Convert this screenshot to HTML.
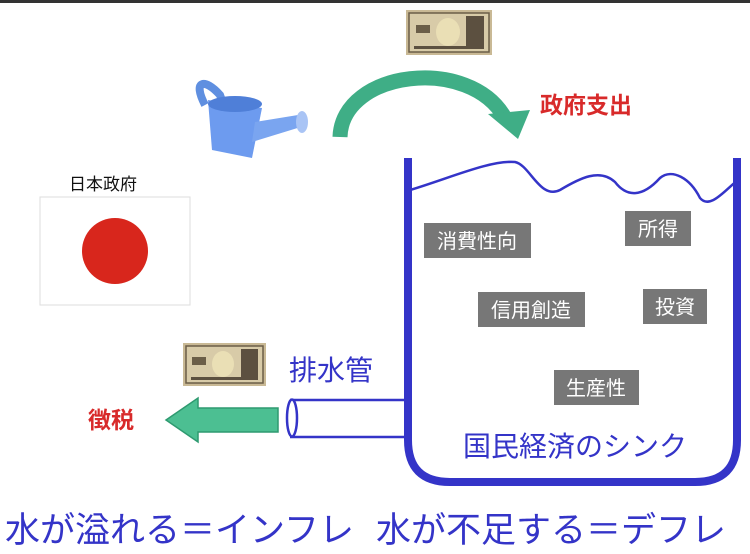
<!DOCTYPE html>
<html><head><meta charset="utf-8"><style>
body{margin:0;background:#fff;}
svg text{font-family:"Liberation Sans","Noto Sans CJK JP",sans-serif;}
</style></head><body>
<svg width="750" height="549" viewBox="0 0 750 549" xmlns="http://www.w3.org/2000/svg">
<rect x="0" y="0" width="750" height="3" fill="#333"/>
<g transform="translate(406,10)">
<rect width="86" height="45" fill="#c9b995"/>
<rect x="3" y="3" width="80" height="39" fill="#d8cba8" stroke="#6b5e48" stroke-width="1.5"/>
<ellipse cx="42" cy="22" rx="12" ry="14" fill="#eadfb5"/>
<rect x="60" y="6" width="18" height="32" fill="#5c5040"/>
<rect x="10" y="15" width="14" height="8" fill="#6b5e48"/>
<rect x="8" y="36" width="70" height="3" fill="#5c5040"/>
</g>
<g transform="translate(183,343)">
<rect width="83" height="43" fill="#c9b995"/>
<rect x="3" y="3" width="77" height="37" fill="#d8cba8" stroke="#6b5e48" stroke-width="1.5"/>
<ellipse cx="40" cy="21" rx="11" ry="13" fill="#eadfb5"/>
<rect x="58" y="6" width="17" height="30" fill="#5c5040"/>
<rect x="9" y="14" width="14" height="8" fill="#6b5e48"/>
<rect x="8" y="34" width="67" height="3" fill="#5c5040"/>
</g>
<g>
<path d="M205 105 C192 80 205 78 220 95 L226 112" fill="none" stroke="#5f8fe0" stroke-width="8"/>
<path d="M208 100 L262 108 L252 158 L212 150 Z" fill="#6d9bef"/>
<ellipse cx="235" cy="104" rx="27" ry="8" fill="#4f7fd8"/>
<path d="M255 122 L298 115 L304 126 L252 142 Z" fill="#7aa5f0"/>
<ellipse cx="302" cy="122" rx="6" ry="11" fill="#a9c4f5"/>
</g>
<path d="M340 137 C342 70 470 55 505 118" fill="none" stroke="#3fae86" stroke-width="15"/>
<path d="M488 114 L530 110 L518 139 Z" fill="#3fae86"/>
<text x="540" y="113" font-size="23" fill="#d82a2a" font-weight="bold">政府支出</text>
<text x="69" y="190" font-size="17" fill="#111">日本政府</text>
<rect x="40" y="197" width="150" height="108" fill="#fff" stroke="#ddd"/>
<circle cx="115" cy="251" r="33" fill="#d8261c"/>
<path d="M408 158 L408 440 Q408 482 450 482 L695 482 Q737 482 737 440 L737 158" fill="none" stroke="#3434c8" stroke-width="8"/>
<path d="M410 190 C450 178 490 160 515 162 C530 165 540 200 560 190 C580 178 600 168 615 182 C625 195 640 200 660 178 C672 168 690 178 700 198 C710 210 725 190 738 180" fill="none" stroke="#3434c8" stroke-width="2.5"/>
<g font-size="20" fill="#fff">
<rect x="424" y="223" width="107" height="35" fill="#777"/><text x="437" y="248">消費性向</text>
<rect x="625" y="211" width="66" height="35" fill="#777"/><text x="638" y="236">所得</text>
<rect x="478" y="292" width="107" height="35" fill="#777"/><text x="491" y="317">信用創造</text>
<rect x="643" y="289" width="64" height="35" fill="#777"/><text x="655" y="314">投資</text>
<rect x="554" y="370" width="85" height="35" fill="#777"/><text x="566" y="395">生産性</text>
</g>
<text x="463" y="456" font-size="28" fill="#3434c8">国民経済のシンク</text>
<path d="M290 400 L405 400 M290 437 L405 437" stroke="#3434c8" stroke-width="2.5"/>
<ellipse cx="292" cy="418" rx="5" ry="18.5" fill="#fff" stroke="#3434c8" stroke-width="2.5"/>
<text x="289" y="380" font-size="28" fill="#3434c8">排水管</text>
<path d="M278 408 L198 408 L198 398 L166 420 L198 442 L198 432 L278 432 Z" fill="#4cbf92" stroke="#2e9a70" stroke-width="1.5"/>
<text x="88" y="428" font-size="23" fill="#d82a2a" font-weight="bold">徴税</text>
<text x="5" y="542" font-size="35" fill="#3434c8">水が溢れる＝インフレ<tspan dx="22">水が不足する＝デフレ</tspan></text>
</svg>
</body></html>
